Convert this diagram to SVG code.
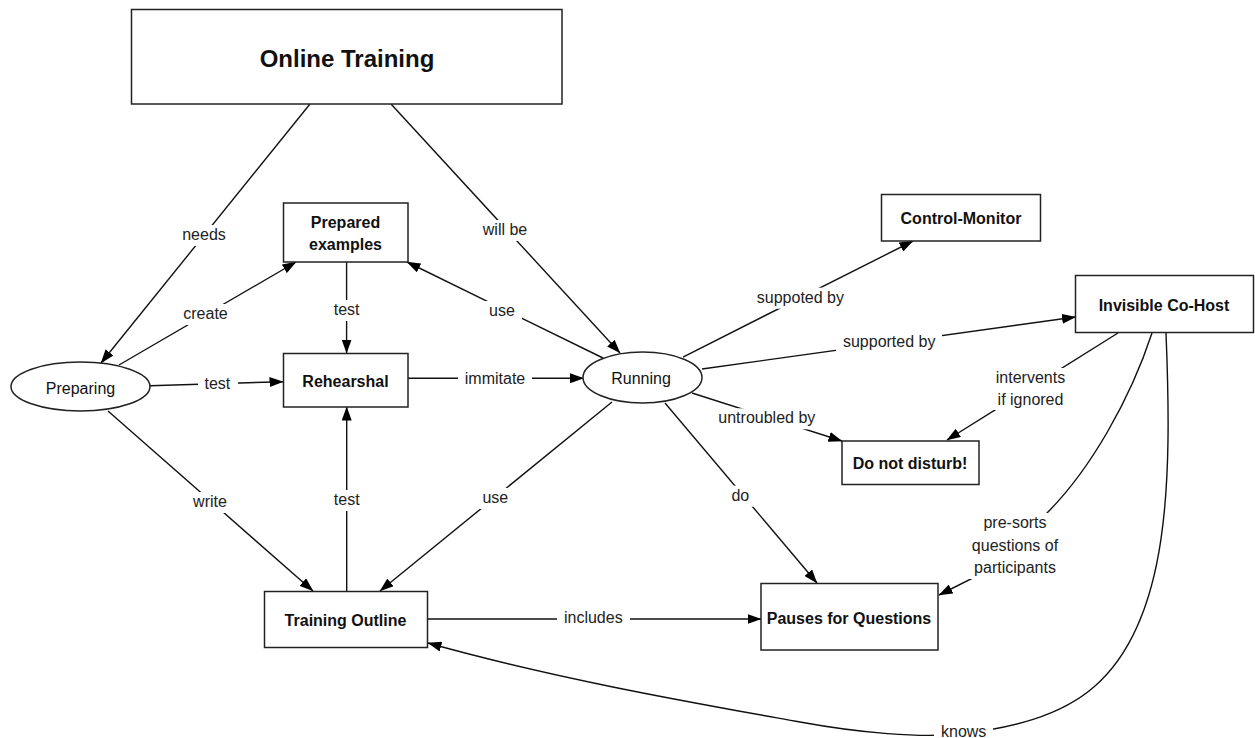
<svg xmlns="http://www.w3.org/2000/svg" width="1255" height="738" viewBox="0 0 1255 738">
<style>
  .box { fill: #fff; stroke: #222; stroke-width: 1.5; }
  .node-b { font-family: "Liberation Sans", Arial, sans-serif; font-size: 16px; font-weight: bold; fill: #111; text-anchor: middle; }
  .node-r { font-family: "Liberation Sans", Arial, sans-serif; font-size: 16px; fill: #111; text-anchor: middle; }
  .title { font-family: "Liberation Sans", Arial, sans-serif; font-size: 24px; font-weight: bold; fill: #111; text-anchor: middle; }
  .edge { fill: none; stroke: #111; stroke-width: 1.4; marker-end: url(#arr); }
  .lbl { font-family: "Liberation Sans", Arial, sans-serif; font-size: 16px; fill: #222; text-anchor: middle; }
  .lblbg { fill: #fff; stroke: none; }
</style>
<defs>
  <marker id="arr" markerWidth="14" markerHeight="10" refX="13.5" refY="5" orient="auto" markerUnits="userSpaceOnUse">
    <path d="M0,0 L14,5 L0,10 z" fill="#000"/>
  </marker>
</defs>
<rect width="1255" height="738" fill="#fff"/>

<g id="connectors">
  <path class="edge" d="M310,104 L101,363"/>
  <path class="edge" d="M391,104 L620,353"/>
  <path class="edge" d="M119,365 L296,262"/>
  <path class="edge" d="M346.6,262 L346.6,353"/>
  <path class="edge" d="M603,358 L407,262"/>
  <path class="edge" d="M150,385.7 L283,381.7"/>
  <path class="edge" d="M408,378.3 L583.5,378.3"/>
  <path class="edge" d="M108,411 L313,591"/>
  <path class="edge" d="M346.7,591 L346.7,407"/>
  <path class="edge" d="M612,402 L380,591"/>
  <path class="edge" d="M665,403 L817,583"/>
  <path class="edge" d="M427.5,619 L761,619"/>
  <path class="edge" d="M683,357 L913,241"/>
  <path class="edge" d="M702,369 L1075.5,317"/>
  <path class="edge" d="M692,393 L842,441"/>
  <path class="edge" d="M1118,333 L947,440"/>
  <path class="edge" d="M1152,333 C1130,400 1090,470 1047,513 L985,572 L939,595"/>
  <path class="edge" d="M1166,333 C1172,480 1170,620 1095,686 C1060,717 1010,728 960,734 C920,738 860,733 800,722 C700,704 560,680 428,643"/>

  <g id="edge-labels">
    <rect class="lblbg" x="175" y="225" width="58" height="21"/><text class="lbl" x="204" y="240">needs</text>
    <rect class="lblbg" x="476" y="220" width="58" height="21"/><text class="lbl" x="505" y="235">will be</text>
    <rect class="lblbg" x="176" y="304" width="59" height="21"/><text class="lbl" x="205.5" y="319">create</text>
    <rect class="lblbg" x="327" y="300" width="40" height="21"/><text class="lbl" x="346.6" y="315">test</text>
    <rect class="lblbg" x="482" y="301" width="40" height="21"/><text class="lbl" x="502" y="316">use</text>
    <rect class="lblbg" x="198" y="374" width="40" height="21"/><text class="lbl" x="217.4" y="389">test</text>
    <rect class="lblbg" x="458" y="368.5" width="74" height="21"/><text class="lbl" x="495" y="383.5">immitate</text>
    <rect class="lblbg" x="186" y="492" width="48" height="21"/><text class="lbl" x="210" y="507">write</text>
    <rect class="lblbg" x="327" y="490" width="40" height="21"/><text class="lbl" x="346.7" y="505">test</text>
    <rect class="lblbg" x="475" y="488" width="40" height="21"/><text class="lbl" x="495.3" y="503">use</text>
    <rect class="lblbg" x="724" y="485.7" width="32" height="21"/><text class="lbl" x="740.3" y="500.7">do</text>
    <rect class="lblbg" x="557" y="608" width="73" height="21"/><text class="lbl" x="593.3" y="623">includes</text>
    <rect class="lblbg" x="750" y="287.7" width="101" height="21"/><text class="lbl" x="800.4" y="302.7">suppoted by</text>
    <rect class="lblbg" x="836" y="331.7" width="106" height="21"/><text class="lbl" x="889.2" y="346.7">supported by</text>
    <rect class="lblbg" x="711" y="408.3" width="111" height="21"/><text class="lbl" x="766.8" y="423.3">untroubled by</text>
    <rect class="lblbg" x="989" y="368" width="84" height="42"/>
    <text class="lbl" x="1030.5" y="383">intervents</text>
    <text class="lbl" x="1030.5" y="404.5">if ignored</text>
    <rect class="lblbg" x="965" y="513" width="100" height="66"/>
    <text class="lbl" x="1015" y="528">pre-sorts</text>
    <text class="lbl" x="1015" y="551">questions of</text>
    <text class="lbl" x="1015" y="573">participants</text>
    <rect class="lblbg" x="934" y="722" width="59" height="16"/><text class="lbl" x="963.7" y="736.5">knows</text>
  </g>
</g>

<g id="n-online">
  <rect class="box" x="131.5" y="9.5" width="430.5" height="94.5"/>
  <text class="title" x="347" y="67">Online Training</text>
</g>
<g id="n-prepared">
  <rect class="box" x="283.5" y="203" width="124.5" height="59"/>
  <text class="node-b" x="345.5" y="228">Prepared</text>
  <text class="node-b" x="345.5" y="250">examples</text>
</g>
<g id="n-rehearshal">
  <rect class="box" x="283.5" y="353.5" width="124.5" height="53.5"/>
  <text class="node-b" x="345.5" y="387">Rehearshal</text>
</g>
<g id="n-preparing">
  <ellipse class="box" cx="80.5" cy="386.5" rx="69.5" ry="24.5"/>
  <text class="node-r" x="80.5" y="394">Preparing</text>
</g>
<g id="n-running">
  <ellipse class="box" cx="642.5" cy="377.5" rx="59.5" ry="25.5"/>
  <text class="node-r" x="641" y="384">Running</text>
</g>
<g id="n-control">
  <rect class="box" x="881.5" y="194.5" width="159" height="46.5"/>
  <text class="node-b" x="961" y="224">Control-Monitor</text>
</g>
<g id="n-cohost">
  <rect class="box" x="1075.5" y="275.5" width="178" height="57"/>
  <text class="node-b" x="1164" y="311">Invisible Co-Host</text>
</g>
<g id="n-dnd">
  <rect class="box" x="842" y="441" width="137" height="43.5"/>
  <text class="node-b" x="910" y="468.5">Do not disturb!</text>
</g>
<g id="n-outline">
  <rect class="box" x="264.5" y="591.5" width="163" height="56"/>
  <text class="node-b" x="345.5" y="626">Training Outline</text>
</g>
<g id="n-pauses">
  <rect class="box" x="761" y="583.5" width="177" height="66.5"/>
  <text class="node-b" x="849" y="623.5">Pauses for Questions</text>
</g>
</svg>
